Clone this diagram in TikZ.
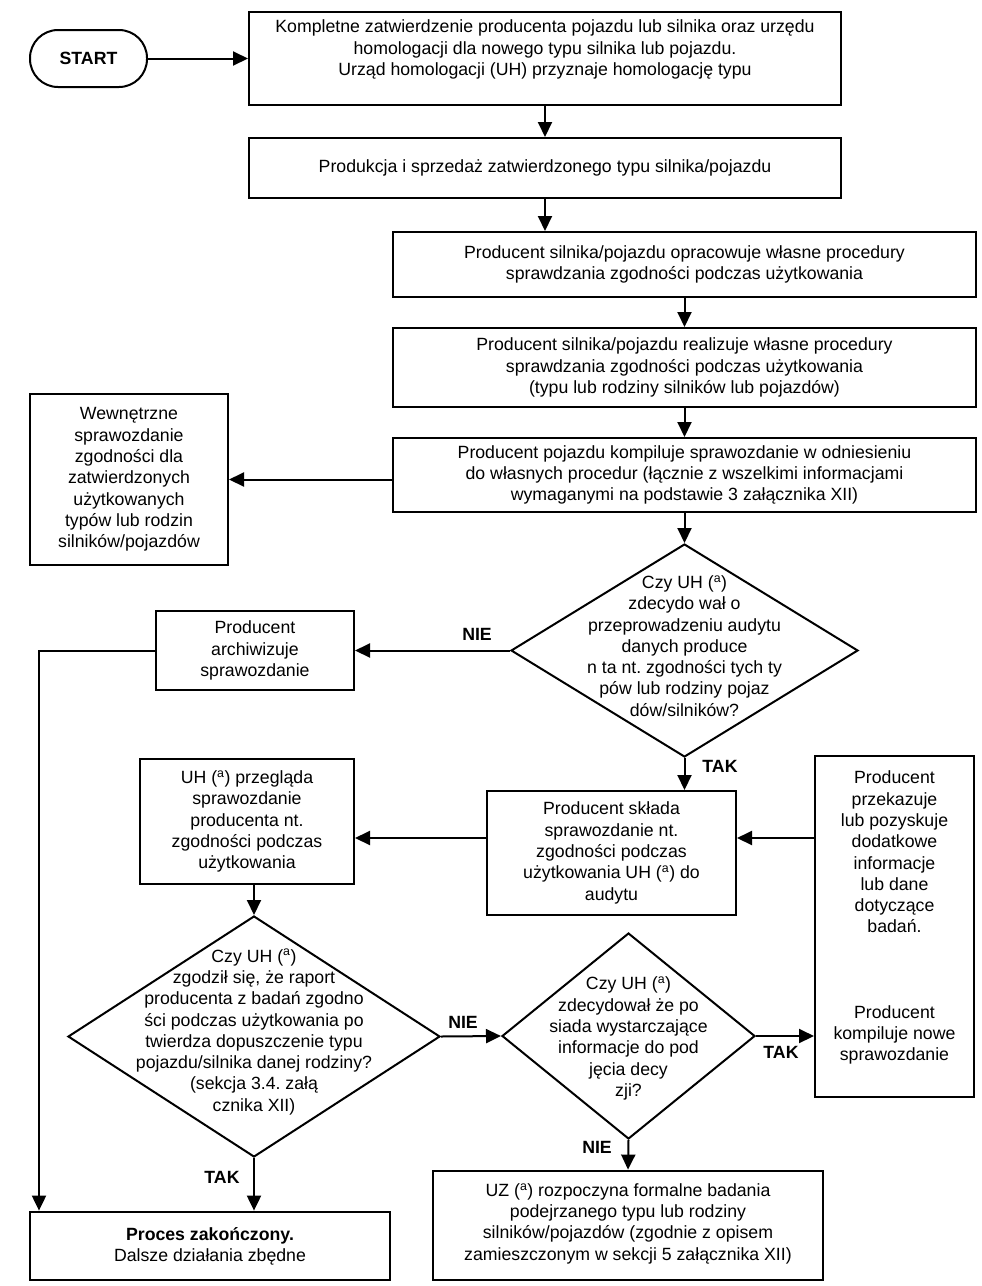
\documentclass[tikz,border=0pt]{standalone}
\usepackage{fontspec}
\setmainfont{Liberation Sans}
\usetikzlibrary{arrows.meta,shapes.geometric}
\frenchspacing
\begin{document}
\begin{tikzpicture}[x=1pt,y=-1pt,
  every node/.style={font={\fontsize{17.7pt}{21.3pt}\selectfont}},
  box/.style={draw,line width=2pt,inner sep=0pt,align=center},
  thickbox/.style={box,line width=2.8pt},
  dia/.style={draw,diamond,line width=2pt,inner sep=0pt},
  txt/.style={align=center,inner sep=0pt},
  lbl/.style={font={\fontsize{17.7pt}{21.3pt}\selectfont\bfseries},inner sep=0pt},
  arr/.style={line width=2pt,-{Triangle[length=15pt,width=14pt]}},
  ln/.style={line width=2pt}]
\useasboundingbox (0,0) rectangle (982,1286);
% nodes
\node[box,rounded corners=28pt,minimum width=117pt,minimum height=57pt,font={\fontsize{17.7pt}{21.3pt}\selectfont\bfseries}] (start) at (88.5,58.5) {START};
\node[box,minimum width=592pt,minimum height=93pt] (b1) at (545,58.5) {Kompletne zatwierdzenie producenta pojazdu lub silnika oraz urzędu\\homologacji dla nowego typu silnika lub pojazdu.\\Urząd homologacji (UH) przyznaje homologację typu\\\mbox{}};
\node[box,minimum width=592pt,minimum height=60pt] (b2) at (545,168) {Produkcja i sprzedaż zatwierdzonego typu silnika/pojazdu};
\node[box,minimum width=583pt,minimum height=65pt] (b3) at (684.5,264.5) {Producent silnika/pojazdu opracowuje własne procedury\\sprawdzania zgodności podczas użytkowania};
\node[box,minimum width=583pt,minimum height=79pt] (b4) at (684.5,367.5) {Producent silnika/pojazdu realizuje własne procedury\\sprawdzania zgodności podczas użytkowania\\(typu lub rodziny silników lub pojazdów)};
\node[box,minimum width=583pt,minimum height=74pt] (b5) at (684.5,475) {Producent pojazdu kompiluje sprawozdanie w odniesieniu\\do własnych procedur (łącznie z wszelkimi informacjami\\wymaganymi na podstawie 3 załącznika XII)};
\node[box,minimum width=198pt,minimum height=171pt] (wew) at (129,479.5) {Wewnętrzne\\sprawozdanie\\zgodności dla\\zatwierdzonych\\użytkowanych\\typów lub rodzin\\silników/pojazdów};
\node[dia,minimum width=347pt,minimum height=213pt] (d1) at (684.5,650.5) {};
\node[txt] (d1t) at (684.5,646) {Czy UH (\textsuperscript{a})\\zdecydo wał o\\przeprowadzeniu audytu\\danych produce\\n ta nt. zgodności tych ty\\pów lub rodziny pojaz\\dów/silników?};
\node[box,minimum width=198pt,minimum height=79pt] (arch) at (255,650.5) {Producent\\archiwizuje\\sprawozdanie};
\node[box,minimum width=214pt,minimum height=125pt] (uh) at (247,821.5) {UH (\textsuperscript{a}) przegląda\\sprawozdanie\\producenta nt.\\zgodności podczas\\użytkowania};
\node[box,minimum width=249pt,minimum height=124pt] (b6) at (611.5,853) {Producent składa\\sprawozdanie nt.\\zgodności podczas\\użytkowania UH (\textsuperscript{a}) do\\audytu};
\node[box,minimum width=159pt,minimum height=341pt] (rb) at (894.5,926.5) {Producent\\przekazuje\\lub pozyskuje\\dodatkowe\\informacje\\lub dane\\dotyczące\\badań.\\[63.9pt]Producent\\kompiluje nowe\\sprawozdanie\\\mbox{}};
\node[dia,minimum width=372pt,minimum height=241pt] (d2) at (254,1036.5) {};
\node[txt] (d2t) at (254,1032) {Czy UH (\textsuperscript{a})\\zgodził się, że raport\\producenta z badań zgodno\\ści podczas użytkowania po\\twierdza dopuszczenie typu\\pojazdu/silnika danej rodziny?\\(sekcja 3.4. załą\\cznika XII)};
\node[dia,minimum width=253pt,minimum height=206pt] (d3) at (628.5,1036) {};
\node[txt] (d3t) at (628.5,1038.5) {Czy UH (\textsuperscript{a})\\zdecydował że po\\siada wystarczające\\informacje do pod\\jęcia decy\\zji?};
\node[thickbox,minimum width=390pt,minimum height=109pt] (uz) at (628,1225.5) {UZ (\textsuperscript{a}) rozpoczyna formalne badania\\podejrzanego typu lub rodziny\\silników/pojazdów (zgodnie z opisem\\zamieszczonym w sekcji 5 załącznika XII)\\[-14pt]\mbox{}};
\node[thickbox,minimum width=360pt,minimum height=68pt] (endb) at (210,1246) {\textbf{Proces zakończony.}\\Dalsze działania zbędne};
% labels
\node[lbl] (l1) at (477,634) {NIE};
\node[lbl] (l2) at (720,766) {TAK};
\node[lbl] (l3) at (463,1022) {NIE};
\node[lbl] (l4) at (781,1052) {TAK};
\node[lbl] (l5) at (597,1147) {NIE};
\node[lbl] (l6) at (222,1177) {TAK};
% connectors
\coordinate (cL) at (39,650.5);
\coordinate (yA) at (0,838);
\draw[arr] (start.east) -- (start.east -| b1.west);
\draw[arr] (b1.south) -- (b2.north);
\draw[arr] (b2.south) -- (b2.south |- b3.north);
\draw[arr] (b3.south) -- (b4.north);
\draw[arr] (b4.south) -- (b5.north);
\draw[arr] (wew.east -| b5.west) -- (wew.east);
\draw[arr] (b5.south) -- (d1.north);
\draw[arr] (d1.west) -- (arch.east);
\draw[arr] (arch.west) -- (cL) -- (cL |- endb.north);
\draw[arr] (d1.south) -- (d1.south |- b6.north);
\draw[arr] (yA -| rb.west) -- (yA -| b6.east);
\draw[arr] (yA -| b6.west) -- (yA -| uh.east);
\draw[arr] (d2.north |- uh.south) -- (d2.north);
\draw[arr] (d2.east) -- (d3.west);
\draw[arr] (d3.east) -- (d3.east -| rb.west);
\draw[arr] (d3.south) -- (uz.north);
\draw[arr] (d2.south) -- (d2.south |- endb.north);
\end{tikzpicture}
\end{document}
